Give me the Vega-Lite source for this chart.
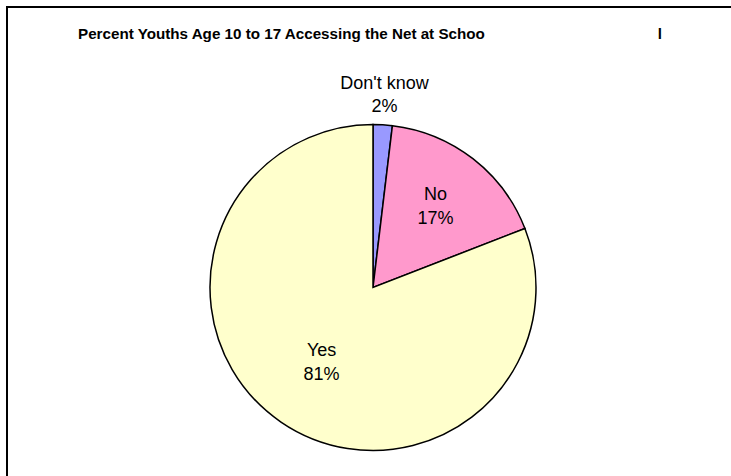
{
  "$schema": "https://vega.github.io/schema/vega-lite/v6.json",
  "width": 732,
  "height": 561,
  "autosize": {"type": "none"},
  "padding": {"left": 7, "top": 7, "right": 0, "bottom": 0},
  "background": "white",
  "view": {"stroke": "black", "strokeWidth": 2},
  "config": {
    "view": {"stroke": "black", "strokeWidth": 2},
    "font": "Liberation Sans"
  },
  "title": {
    "text": "Percent Youths Age 10 to 17 Accessing the Net at Schoo\u00a0\u00a0\u00a0\u00a0\u00a0\u00a0\u00a0\u00a0\u00a0\u00a0\u00a0\u00a0\u00a0\u00a0\u00a0\u00a0\u00a0\u00a0\u00a0\u00a0\u00a0\u00a0\u00a0\u00a0\u00a0\u00a0\u00a0\u00a0\u00a0\u00a0\u00a0\u00a0\u00a0\u00a0\u00a0\u00a0\u00a0\u00a0\u00a0\u00a0\u00a0l",
    "anchor": "start",
    "frame": "group",
    "orient": "top",
    "baseline": "middle",
    "offset": -42,
    "dx": 71,
    "font": "Liberation Sans",
    "fontSize": 15.2,
    "fontWeight": "bold",
    "color": "black"
  },
  "data": {
    "values": [
      {"answer": "Don't know", "value": 0.019},
      {"answer": "No", "value": 0.172},
      {"answer": "Yes", "value": 0.809}
    ]
  },
  "encoding": {
    "theta": {"field": "value", "type": "quantitative", "stack": true},
    "detail": {"field": "answer", "type": "nominal"}
  },
  "layer": [
    {
      "mark": {"type": "arc", "outerRadius": 163, "stroke": "black", "strokeWidth": 1.5},
      "encoding": {
        "color": {
          "field": "answer",
          "type": "nominal",
          "scale": {"domain": ["Don't know", "No", "Yes"], "range": ["#9999FF", "#FF99CC", "#FFFFCC"]},
          "legend": null
        }
      }
    },
    {
      "mark": {"type": "text", "radius": 192, "dy": -12, "fontSize": 18, "color": "black", "baseline": "middle"},
      "encoding": {"text": {"condition": {"test": "datum.answer === \"Don't know\"", "field": "answer"}, "value": ""}}
    },
    {
      "mark": {"type": "text", "radius": 192, "dy": 11, "fontSize": 18, "color": "black", "baseline": "middle"},
      "encoding": {"text": {"condition": {"test": "datum.answer === \"Don't know\"", "field": "value", "type": "quantitative", "format": ".0%"}, "value": ""}}
    },
    {
      "mark": {"type": "text", "radius": 102, "dy": -12, "fontSize": 18, "color": "black", "baseline": "middle"},
      "encoding": {"text": {"condition": {"test": "datum.answer === 'No'", "field": "answer"}, "value": ""}}
    },
    {
      "mark": {"type": "text", "radius": 102, "dy": 12, "fontSize": 18, "color": "black", "baseline": "middle"},
      "encoding": {"text": {"condition": {"test": "datum.answer === 'No'", "field": "value", "type": "quantitative", "format": ".0%"}, "value": ""}}
    },
    {
      "mark": {"type": "text", "radius": 91, "dy": -12, "fontSize": 18, "color": "black", "baseline": "middle"},
      "encoding": {"text": {"condition": {"test": "datum.answer === 'Yes'", "field": "answer"}, "value": ""}}
    },
    {
      "mark": {"type": "text", "radius": 91, "dy": 12, "fontSize": 18, "color": "black", "baseline": "middle"},
      "encoding": {"text": {"condition": {"test": "datum.answer === 'Yes'", "field": "value", "type": "quantitative", "format": ".0%"}, "value": ""}}
    }
  ]
}
